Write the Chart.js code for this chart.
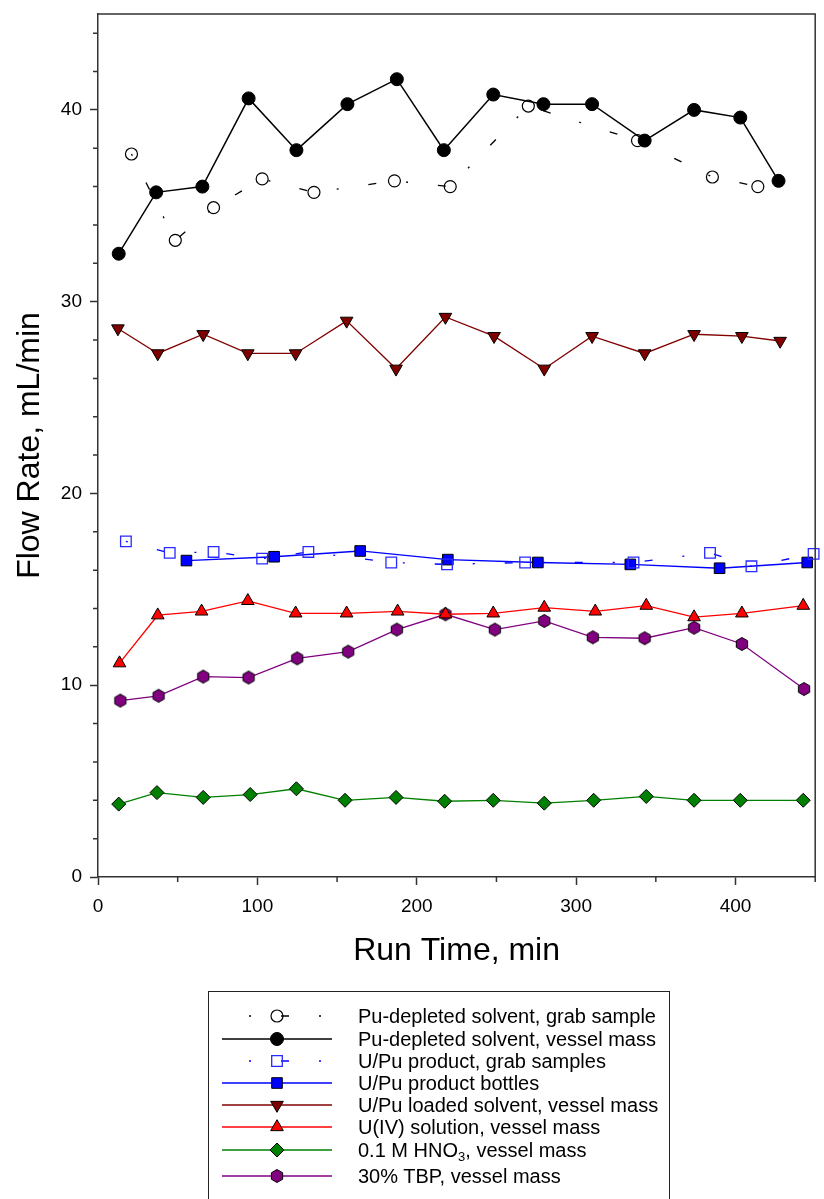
<!DOCTYPE html>
<html>
<head>
<meta charset="utf-8">
<script src="https://cdn.jsdelivr.net/npm/chart.js@4.4.0/dist/chart.umd.min.js"></script>
<style>
  html, body { margin: 0; padding: 0; background: #fff; }
  #wrap { position: relative; width: 824px; height: 1199px; overflow: hidden; }
  #legend {
    position: absolute; left: 208px; top: 991px; width: 462px; height: 240px;
    border: 1px solid #222; box-sizing: border-box;
    font-family: 'Liberation Sans', Arial, sans-serif; font-size: 20px; color: #000;
  }
  .row { position: absolute; left: 0; height: 22px; width: 100%; }
  .row canvas { position: absolute; left: 13px; top: 0; }
  .row span { position: absolute; left: 149px; top: 0; line-height: 22px; white-space: nowrap; }
  .row sub { font-size: 13px; vertical-align: -4px; line-height: 0; }
</style>
</head>
<body>
<div id="wrap">
  <canvas id="chart" width="824" height="1199"></canvas>
  <div id="legend"></div>
</div>
<script>
// Pu-depleted solvent, grab sample (open circles)
const puGrabX = [21, 48.5, 72.5, 103, 135.5, 186, 221, 270, 338.5, 385.5, 414];
const puGrabY = [37.7, 33.2, 34.9, 36.4, 35.7, 36.3, 36.0, 40.2, 38.4, 36.5, 36.0];

// Pu-depleted solvent, vessel mass (filled circles)
const puMassX = [13, 36.5, 65.5, 94.5, 124.5, 156.5, 187.5, 217, 248, 279.5, 310, 343, 374, 403, 427];
const puMassY = [32.5, 35.7, 36.0, 40.6, 37.9, 40.3, 41.6, 37.9, 40.8, 40.3, 40.3, 38.4, 40.0, 39.6, 36.3];

// U/Pu product, grab samples (open squares)
const prodGrabX = [17.5, 45, 72.5, 103, 132, 184, 219, 268, 336, 384, 410, 449];
const prodGrabY = [17.5, 16.9, 16.95, 16.6, 16.95, 16.4, 16.3, 16.4, 16.4, 16.9, 16.2, 16.85];

// U/Pu product bottles (filled squares)
const prodBottleX = [55.5, 110.5, 164.5, 219.5, 276, 334, 390, 445];
const prodBottleY = [16.5, 16.7, 17.0, 16.55, 16.4, 16.3, 16.1, 16.4];

// U/Pu loaded solvent, vessel mass
const loadedX = [12.5, 37.5, 66, 94, 124, 156, 187, 218, 248.5, 280, 310, 343, 374, 404, 428];
const loadedY = [28.6, 27.3, 28.3, 27.3, 27.3, 29.0, 26.5, 29.2, 28.2, 26.5, 28.2, 27.3, 28.3, 28.2, 27.95];

// U(IV) solution, vessel mass
const u4X = [13.5, 37.5, 65, 94, 124, 156, 188, 218, 248, 280, 312, 344, 374, 404, 442.5];
const u4Y = [11.15, 13.65, 13.85, 14.4, 13.75, 13.75, 13.85, 13.7, 13.75, 14.05, 13.85, 14.15, 13.55, 13.75, 14.15];

// 0.1 M HNO3, vessel mass
const acidX = [13, 37, 66, 95.5, 124.5, 155, 187, 217.5, 248, 280, 311, 344, 374, 403, 442.5];
const acidY = [3.8, 4.4, 4.15, 4.3, 4.6, 4.0, 4.15, 3.95, 4.0, 3.85, 4.0, 4.2, 4.0, 4.0, 4.0];

// 30% TBP, vessel mass
const tbpX = [14, 38, 66, 94.5, 125, 157, 187.5, 218, 249, 280, 310.5, 343, 374, 404, 443];
const tbpY = [9.2, 9.45, 10.45, 10.4, 11.4, 11.75, 12.9, 13.7, 12.9, 13.35, 12.5, 12.45, 13.0, 12.15, 9.8];

const legendText = [
  'Pu-depleted solvent, grab sample',
  'Pu-depleted solvent, vessel mass',
  'U/Pu product, grab samples',
  'U/Pu product bottles',
  'U/Pu loaded solvent, vessel mass',
  'U(IV) solution, vessel mass',
  '0.1 M HNO<sub>3</sub>, vessel mass',
  '30% TBP, vessel mass'
];
const legendTops = [13, 36, 58, 80, 102, 124, 147, 173];

Chart.defaults.font.family = "'Liberation Sans', Arial, sans-serif";
Chart.defaults.color = '#000';

const GRAB_DASH = [2, 30, 8, 30];

function pts(xs, ys) {
  return xs.map((x, i) => ({ x: x, y: ys[i] }));
}

// hexagon marker (no built-in style for it)
function makeHex(r, fill, stroke) {
  const c = document.createElement('canvas');
  const s = Math.ceil(r * 2 + 3);
  c.width = s; c.height = s;
  const g = c.getContext('2d');
  g.beginPath();
  for (let k = 0; k < 6; k++) {
    const a = Math.PI / 2 + k * Math.PI / 3;
    const px = s / 2 + r * Math.cos(a), py = s / 2 + r * Math.sin(a);
    if (k) g.lineTo(px, py); else g.moveTo(px, py);
  }
  g.closePath();
  g.fillStyle = fill; g.fill();
  g.lineWidth = 1; g.strokeStyle = stroke; g.stroke();
  return c;
}

function series(label, data, color, opts) {
  return Object.assign({
    label: label,
    data: data,
    borderColor: color,
    borderWidth: 1.3,
    tension: 0,
    fill: false,
    clip: false,
    pointBorderColor: '#000',
    pointBorderWidth: 1,
    pointHoverRadius: 0
  }, opts);
}

const datasets = [
  series('Pu-depleted solvent, grab sample', pts(puGrabX, puGrabY), '#000', {
    borderDash: GRAB_DASH, pointStyle: 'circle', pointRadius: 6,
    pointBackgroundColor: 'rgba(0,0,0,0)', pointBorderColor: '#000', pointBorderWidth: 1.2
  }),
  series('Pu-depleted solvent, vessel mass', pts(puMassX, puMassY), '#000', {
    borderWidth: 1.5, pointStyle: 'circle', pointRadius: 6.5, pointBackgroundColor: '#000'
  }),
  series('U/Pu product, grab samples', pts(prodGrabX, prodGrabY), '#0000ff', {
    borderDash: GRAB_DASH, pointStyle: 'rect', pointRadius: 7.5,
    pointBackgroundColor: 'rgba(0,0,0,0)', pointBorderColor: '#2a2aff', pointBorderWidth: 1.3
  }),
  series('U/Pu product bottles', pts(prodBottleX, prodBottleY), '#0000ff', {
    pointStyle: 'rect', pointRadius: 7.5, pointBackgroundColor: '#0000ff'
  }),
  series('U/Pu loaded solvent, vessel mass', pts(loadedX, loadedY), '#800000', {
    pointStyle: 'triangle', pointRotation: 180, pointRadius: 7.3,
    pointBackgroundColor: '#800000'
  }),
  series('U(IV) solution, vessel mass', pts(u4X, u4Y), '#ff0000', {
    pointStyle: 'triangle', pointRadius: 7.3, pointBackgroundColor: '#ff0000'
  }),
  series('0.1 M HNO\u2083, vessel mass', pts(acidX, acidY), '#008000', {
    pointStyle: 'rectRot', pointRadius: 7, pointBackgroundColor: '#008000'
  }),
  series('30% TBP, vessel mass', pts(tbpX, tbpY), '#800080', {
    pointStyle: makeHex(6.5, '#800080', '#000'), pointRadius: 6.5,
    pointBackgroundColor: '#800080'
  })
];

// top/right frame plus the short minor ticks
const framePlugin = {
  id: 'frame',
  afterDatasetsDraw(chart) {
    const { ctx, chartArea: a } = chart;
    ctx.save();
    ctx.strokeStyle = '#333';
    ctx.lineWidth = 1.5;
    ctx.beginPath();
    ctx.moveTo(a.left, a.top);
    ctx.lineTo(a.right, a.top);
    ctx.lineTo(a.right, a.bottom);
    ctx.stroke();
    const xs = chart.scales.x, ys = chart.scales.y;
    ctx.beginPath();
    xs.ticks.forEach(t => {
      if (t.value % 100 !== 0) {
        const p = xs.getPixelForValue(t.value);
        ctx.moveTo(p, a.bottom); ctx.lineTo(p, a.bottom + 5);
      }
    });
    ys.ticks.forEach(t => {
      if (t.value % 10 !== 0) {
        const p = ys.getPixelForValue(t.value);
        ctx.moveTo(a.left, p); ctx.lineTo(a.left - 5, p);
      }
    });
    ctx.stroke();
    ctx.restore();
  }
};

const chart = new Chart(document.getElementById('chart').getContext('2d'), {
  type: 'line',
  data: { datasets: datasets },
  options: {
    responsive: false,
    devicePixelRatio: 1,
    animation: false,
    layout: { padding: { left: 0, right: 8, top: 14, bottom: 229 } },
    plugins: { legend: { display: false }, tooltip: { enabled: false } },
    scales: {
      x: {
        type: 'linear', min: 0, max: 450,
        ticks: {
          stepSize: 50, autoSkip: false, maxRotation: 0, padding: 10,
          font: { size: 19 }, color: '#000',
          callback: v => (v % 100 === 0 ? v : '')
        },
        grid: {
          drawOnChartArea: false, tickLength: 8, tickWidth: 1.5,
          tickColor: c => (c.tick && c.tick.value % 100 === 0 ? '#333' : 'rgba(0,0,0,0)')
        },
        border: { display: true, color: '#333', width: 1.5 },
        title: { display: true, text: 'Run Time, min', font: { size: 32 }, color: '#000', padding: { top: 0, bottom: 0 } },
        afterFit: s => { s.height = 93; s.paddingLeft = 0; s.paddingRight = 0; }
      },
      y: {
        type: 'linear', min: 0, max: 45,
        ticks: {
          stepSize: 2, includeBounds: false, autoSkip: false, padding: 8,
          font: { size: 19 }, color: '#000',
          callback: v => (v % 10 === 0 ? v : '')
        },
        grid: {
          drawOnChartArea: false, tickLength: 8, tickWidth: 1.5,
          tickColor: c => (c.tick && c.tick.value % 10 === 0 ? '#333' : 'rgba(0,0,0,0)')
        },
        border: { display: true, color: '#333', width: 1.5 },
        title: { display: true, text: 'Flow Rate, mL/min', font: { size: 32 }, color: '#000', padding: { top: 11, bottom: 0 } },
        afterFit: s => { s.width = 98; s.paddingTop = 0; s.paddingBottom = 0; }
      }
    }
  },
  plugins: [framePlugin]
});

// legend built from the dataset styles
const legendBox = document.getElementById('legend');
datasets.forEach((ds, i) => {
  const row = document.createElement('div');
  row.className = 'row';
  row.style.top = legendTops[i] + 'px';
  const cv = document.createElement('canvas');
  cv.width = 112; cv.height = 22;
  const g = cv.getContext('2d');
  g.strokeStyle = ds.borderColor;
  g.lineWidth = ds.borderWidth;
  if (ds.borderDash) { g.setLineDash(ds.borderDash); g.lineDashOffset = -27; }
  g.beginPath(); g.moveTo(0, 11); g.lineTo(110, 11); g.stroke();
  g.setLineDash([]);
  g.fillStyle = ds.pointBackgroundColor;
  g.strokeStyle = ds.pointBorderColor;
  g.lineWidth = ds.pointBorderWidth;
  const style = ds.pointStyle;
  if (Chart.helpers && Chart.helpers.drawPoint) {
    Chart.helpers.drawPoint(g, {
      pointStyle: style, radius: ds.pointRadius,
      rotation: ds.pointRotation || 0, borderWidth: ds.pointBorderWidth
    }, 55, 11);
  } else if (style instanceof HTMLCanvasElement) {
    g.drawImage(style, 55 - style.width / 2, 11 - style.height / 2);
  }
  row.appendChild(cv);
  const span = document.createElement('span');
  span.innerHTML = legendText[i];
  row.appendChild(span);
  legendBox.appendChild(row);
});
</script>
</body>
</html>
